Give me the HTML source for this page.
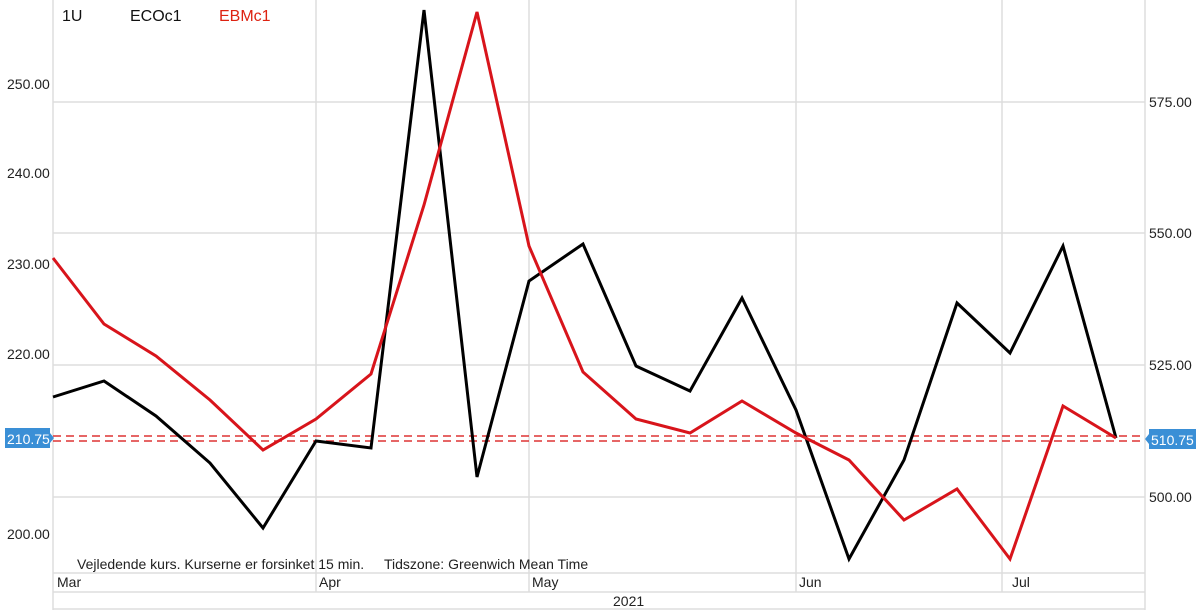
<!DOCTYPE html>
<html><head><style>
body{margin:0;background:#fff;font-family:"Liberation Sans",sans-serif}
svg text{font-family:"Liberation Sans",sans-serif}
</style></head><body>
<svg width="1200" height="610" xmlns="http://www.w3.org/2000/svg">
<rect width="1200" height="610" fill="#fff"/>
<g stroke="#ddd" stroke-width="1.5">
<line x1="53" y1="102" x2="1145" y2="102"/>
<line x1="53" y1="233" x2="1145" y2="233"/>
<line x1="53" y1="365" x2="1145" y2="365"/>
<line x1="53" y1="497" x2="1145" y2="497"/>
<line x1="53" y1="0" x2="53" y2="610"/>
<line x1="1145" y1="0" x2="1145" y2="610"/>
<line x1="316" y1="0" x2="316" y2="592"/>
<line x1="529" y1="0" x2="529" y2="592"/>
<line x1="796" y1="0" x2="796" y2="592"/>
<line x1="1002" y1="0" x2="1002" y2="592"/>
<line x1="53" y1="573" x2="1145" y2="573"/>
<line x1="53" y1="592" x2="1145" y2="592"/>
<line x1="53" y1="609" x2="1145" y2="609"/>
</g>
<g font-size="14" fill="#222">
<text x="7" y="89">250.00</text>
<text x="7" y="178">240.00</text>
<text x="7" y="269">230.00</text>
<text x="7" y="359">220.00</text>
<text x="7" y="539">200.00</text>
<text x="1149" y="107">575.00</text>
<text x="1149" y="238">550.00</text>
<text x="1149" y="370">525.00</text>
<text x="1149" y="502">500.00</text>
<text x="57" y="587">Mar</text>
<text x="319" y="587">Apr</text>
<text x="532" y="587">May</text>
<text x="799" y="587">Jun</text>
<text x="1012" y="587">Jul</text>
<text x="613" y="606">2021</text>
<text x="77" y="569">Vejledende kurs. Kurserne er forsinket 15 min.</text>
<text x="384" y="569">Tidszone: Greenwich Mean Time</text>
</g>
<g font-size="16">
<text x="62" y="21" fill="#111">1U</text>
<text x="130" y="21" fill="#111">ECOc1</text>
<text x="219" y="21" fill="#d21">EBMc1</text>
</g>
<g stroke="#d33" stroke-width="1.5" stroke-dasharray="8,5">
<line x1="53" y1="436" x2="1145" y2="436"/>
<line x1="53" y1="441" x2="1145" y2="441"/>
</g>
<polyline fill="none" stroke="#000" stroke-width="3" points="53,397 104,381 156,416 210,463 263,528 316,441 371,448 424,10 477,477 529,281 583,244 636,366 690,391 742,298 796,410 849,559 904,460 957,303 1010,353 1063,246 1116,438"/>
<polyline fill="none" stroke="#d8141b" stroke-width="3" points="53,258 104,324 156,356 210,400 263,450 316,419 371,374 424,205 477,12 529,246 583,372 636,419 690,433 742,401 796,433 849,460 904,520 957,489 1010,559 1063,406 1116,438"/>
<rect x="5" y="428" width="45" height="20" fill="#3a8fd6"/>
<polygon points="50,433 54,438 50,443" fill="#3a8fd6"/>
<text x="7" y="444" font-size="14" fill="#fff">210.75</text>
<rect x="1149" y="429" width="47" height="20" fill="#3a8fd6"/>
<polygon points="1149,434 1145,439 1149,444" fill="#3a8fd6"/>
<text x="1151" y="445" font-size="14" fill="#fff">510.75</text>
</svg>
</body></html>
